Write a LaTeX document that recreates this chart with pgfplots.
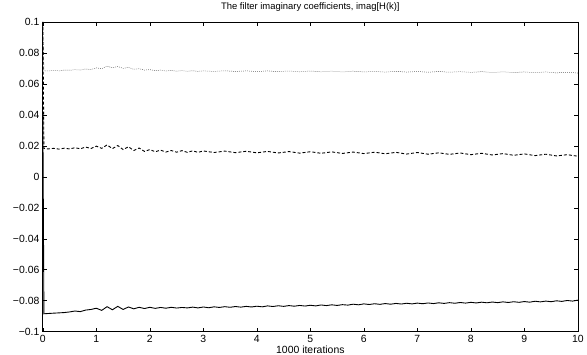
\documentclass[border=0pt]{standalone}
\usepackage{fontspec}
\setmainfont{Liberation Sans}
\usepackage{pgfplots}
\pgfplotsset{compat=1.18}
\begin{document}
\begin{tikzpicture}
\begin{axis}[
  scale only axis, width=537bp, height=311bp,
  xmin=0, xmax=10, ymin=-0.1, ymax=0.1,
  xtick={0,1,2,3,4,5,6,7,8,9,10},
  ytick={-0.1,-0.08,-0.06,-0.04,-0.02,0,0.02,0.04,0.06,0.08,0.1},
  yticklabels={−0.1,−0.08,−0.06,−0.04,−0.02,0,0.02,0.04,0.06,0.08,0.1},
  xtick pos=both, ytick pos=both,
  tick align=inside, major tick length=4bp,
  tick style={black, line width=0.6pt},
  axis line style={black, line width=0.8pt},
  /pgf/number format/assume math mode=true,
  font=\fontsize{10.5}{12}\selectfont,
  title={The filter imaginary coefficients, imag[H(k)]},
  title style={at={(axis description cs:0.5,1.03)}, anchor=center, inner sep=0pt, font=\fontsize{9.5}{11}\selectfont},
  xlabel={1000 iterations},
  xlabel style={at={(axis description cs:0.5,-0.058)}, anchor=center, inner sep=0pt},
  clip=false,
]
\path (rel axis cs:-0.0801,-0.074) rectangle (rel axis cs:1.013,1.0707);
% dotted series
\addplot[gray!70!black, line width=0.5pt, dash pattern=on 0.8bp off 1.2bp] coordinates {
(0,0.1) (0.02,0.0685) (0.1,0.0683) (0.2,0.0687) (0.3,0.0684) (0.4,0.0689) (0.5,0.0688)
(0.6,0.0692) (0.7,0.0689) (0.8,0.0696) (0.9,0.0693) (1.0,0.0703) (1.1,0.0698) (1.2,0.0714)
(1.3,0.0704) (1.4,0.0712) (1.5,0.0700) (1.6,0.0706) (1.7,0.0694) (1.8,0.0698) (1.9,0.0689)
(2.0,0.0692) (2.1,0.0685) (2.2,0.0689) (2.3,0.0683) (2.4,0.0687) (2.5,0.0682) (2.6,0.0686)
(2.7,0.0681) (2.8,0.0685) (2.9,0.0681) (3.0,0.0684) (3.2,0.0680) (3.4,0.0685) (3.6,0.0680)
(3.8,0.0684) (4.0,0.0679) (4.2,0.0684) (4.4,0.0679) (4.6,0.0683) (4.8,0.0678) (5.0,0.0683)
(5.2,0.0678) (5.4,0.0682) (5.6,0.0677) (5.8,0.0682) (6.0,0.0677) (6.2,0.0681) (6.4,0.0676)
(6.6,0.0681) (6.8,0.0676) (7.0,0.0680) (7.2,0.0675) (7.4,0.0680) (7.6,0.0675) (7.8,0.0679)
(8.0,0.0674) (8.2,0.0679) (8.4,0.0673) (8.6,0.0678) (8.8,0.0673) (9.0,0.0677) (9.2,0.0672)
(9.4,0.0677) (9.6,0.0671) (9.8,0.0675) (10,0.0670)
};
% dashed series
\addplot[black, line width=0.9pt, dash pattern=on 3bp off 2bp] coordinates {
(0,0.1) (0.02,0.0183) (0.1,0.0180) (0.2,0.0184) (0.3,0.0179) (0.4,0.0185) (0.5,0.0180)
(0.6,0.0188) (0.7,0.0181) (0.8,0.0192) (0.9,0.0183) (1.0,0.0198) (1.1,0.0184) (1.2,0.0206)
(1.3,0.0182) (1.4,0.0202) (1.5,0.0176) (1.6,0.0194) (1.7,0.0170) (1.8,0.0186) (1.9,0.0164)
(2.0,0.0176) (2.1,0.0162) (2.2,0.0172) (2.3,0.0160) (2.4,0.0170) (2.5,0.0159) (2.6,0.0169)
(2.7,0.0158) (2.8,0.0168) (2.9,0.0158) (3.0,0.0167) (3.2,0.0157) (3.4,0.0166) (3.6,0.0156)
(3.8,0.0165) (4.0,0.0155) (4.2,0.0164) (4.4,0.0154) (4.6,0.0163) (4.8,0.0153) (5.0,0.0162)
(5.2,0.0152) (5.4,0.0161) (5.6,0.0151) (5.8,0.0160) (6.0,0.0150) (6.2,0.0159) (6.4,0.0149)
(6.6,0.0158) (6.8,0.0147) (7.0,0.0157) (7.2,0.0146) (7.4,0.0155) (7.6,0.0145) (7.8,0.0154)
(8.0,0.0143) (8.2,0.0152) (8.4,0.0141) (8.6,0.0150) (8.8,0.0139) (9.0,0.0148) (9.2,0.0137)
(9.4,0.0146) (9.6,0.0135) (9.8,0.0143) (10,0.0133)
};
% solid series
\addplot[black, line width=0.9pt] coordinates {
(0,0.04) (0.02,-0.0884) (0.1,-0.0882) (0.2,-0.0880) (0.3,-0.0878) (0.4,-0.0876) (0.5,-0.0872)
(0.6,-0.0866) (0.7,-0.0870) (0.8,-0.0860) (0.9,-0.0856) (1.0,-0.0848) (1.1,-0.0862) (1.2,-0.0838)
(1.3,-0.0858) (1.4,-0.0836) (1.5,-0.0856) (1.6,-0.0840) (1.7,-0.0852) (1.8,-0.0842) (1.9,-0.0850)
(2.0,-0.0842) (2.1,-0.0849) (2.2,-0.0843) (2.3,-0.0848) (2.4,-0.0842) (2.5,-0.0847) (2.6,-0.0843)
(2.7,-0.0846) (2.8,-0.0841) (2.9,-0.0846) (3.0,-0.0840) (3.1,-0.0845) (3.2,-0.0839) (3.3,-0.0843)
(3.4,-0.0838) (3.5,-0.0842) (3.6,-0.0837) (3.7,-0.0841) (3.8,-0.0836) (3.9,-0.0840) (4.0,-0.0835)
(4.1,-0.0839) (4.2,-0.0833) (4.3,-0.0837) (4.4,-0.0832) (4.5,-0.0836) (4.6,-0.0831) (4.7,-0.0835)
(4.8,-0.0830) (4.9,-0.0834) (5.0,-0.0829) (5.1,-0.0833) (5.2,-0.0827) (5.3,-0.0831) (5.4,-0.0826)
(5.5,-0.0830) (5.6,-0.0825) (5.7,-0.0828) (5.8,-0.0822) (5.9,-0.0826) (6.0,-0.0820) (6.1,-0.0824)
(6.2,-0.0819) (6.3,-0.0823) (6.4,-0.0818) (6.5,-0.0822) (6.6,-0.0817) (6.7,-0.0821) (6.8,-0.0816)
(6.9,-0.0820) (7.0,-0.0815) (7.1,-0.0819) (7.2,-0.0814) (7.3,-0.0818) (7.4,-0.0813) (7.5,-0.0817)
(7.6,-0.0812) (7.7,-0.0816) (7.8,-0.0811) (7.9,-0.0815) (8.0,-0.0810) (8.1,-0.0814) (8.2,-0.0809)
(8.3,-0.0813) (8.4,-0.0808) (8.5,-0.0812) (8.6,-0.0807) (8.7,-0.0811) (8.8,-0.0806) (8.9,-0.0810)
(9.0,-0.0805) (9.1,-0.0809) (9.2,-0.0803) (9.3,-0.0807) (9.4,-0.0802) (9.5,-0.0806) (9.6,-0.0800)
(9.7,-0.0804) (9.8,-0.0798) (9.9,-0.0802) (10,-0.0796)
};
\end{axis}
\end{tikzpicture}
\end{document}
